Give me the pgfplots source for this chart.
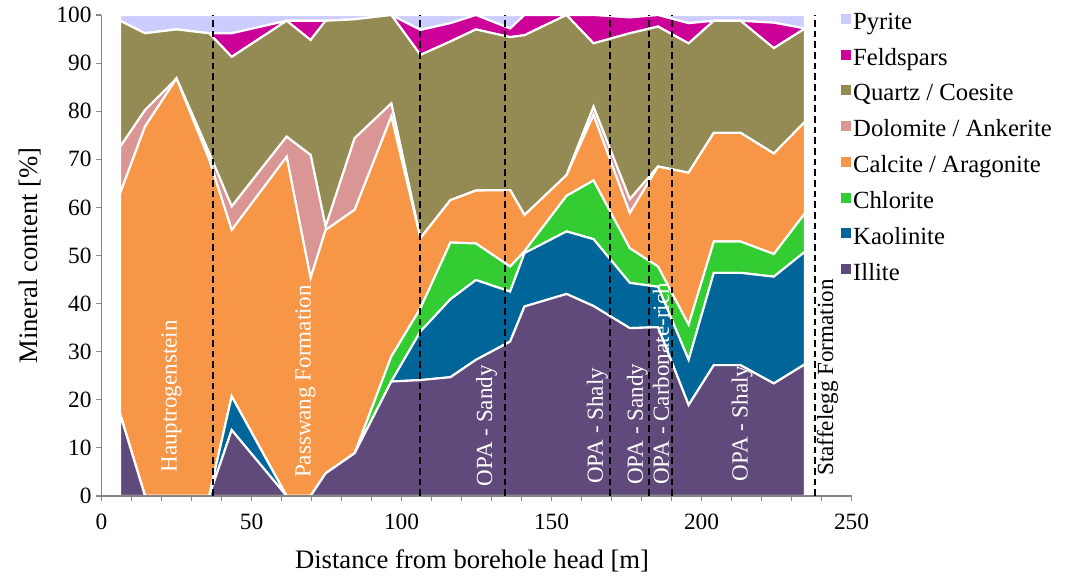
\documentclass[border=0pt]{standalone}
\usepackage{pgfplots}
\pgfplotsset{compat=1.18}
\usepackage{pgfplotstable}
\usepackage{fontspec}
\setmainfont{Liberation Serif}
\definecolor{cIll}{HTML}{604A7B}
\definecolor{cKao}{HTML}{006699}
\definecolor{cChl}{HTML}{33CC33}
\definecolor{cCal}{HTML}{F79646}
\definecolor{cDol}{HTML}{D99694}
\definecolor{cQtz}{HTML}{948A54}
\definecolor{cFel}{HTML}{CC0099}
\definecolor{cPyr}{HTML}{CCCCFF}
\definecolor{axgray}{HTML}{868686}

\pgfplotstableread{
x     I    K    C    Ca   D    Q    F   P
6.2   17.0 0    0    45.9 9.7  26.2 0   1.2
14.5  0    0    0    76.8 3.4  16.0 0   3.8
25.0  0    0    0    86.8 0    10.2 0   3.0
35.9  0    0    0    69.9 1.4  24.9 0   3.8
43.4  13.7 7.0  0    34.6 4.9  31.1 4.9 3.8
61.7  0    0    0    70.5 4.2  24.1 0   1.2
69.7  0    0    0    45.3 25.6 23.9 4.0 1.2
74.7  4.7  0    0    50.6 0.7  42.8 0   1.2
84.4  8.9  0    0    50.6 14.9 24.7 0   0.9
96.6  23.8 0    5.2  49.9 2.7  18.4 0   0
106.3 24.1 10.1 4.8  14.6 0    38.1 5.2 3.1
116.3 24.7 16.2 11.8 8.8  0    33.0 3.8 1.7
124.8 28.3 16.6 7.6  11.0 0    33.5 3.0 0
136.2 32.1 10.4 5.2  15.9 0    31.8 1.8 2.8
141.0 39.4 11.1 0.4  7.5  0    37.4 4.2 0
155.0 42.0 13.0 7.4  4.3  0    33.3 0   0
164.0 39.5 13.9 12.2 13.6 1.7  13.2 5.9 0
176.1 34.9 9.4  7.2  7.3  2.9  34.5 3.3 0.5
185.5 35.1 8.4  4.2  20.8 0    29.1 2.4 0
195.7 18.9 9.4  7.3  31.6 0    26.9 4.2 1.7
204.1 27.2 19.2 6.5  22.6 0    23.3 0   1.2
213.0 27.2 19.2 6.5  22.6 0    23.3 0   1.2
224.1 23.4 22.2 4.7  20.9 0    21.9 5.3 1.6
234.5 27.4 23.4 8.0  19.0 0    19.4 0   2.8
}\datatable

\begin{document}
\begin{tikzpicture}
\path[use as bounding box] (-76.125pt,-60pt) rectangle ++(799.5pt,432pt);
\begin{axis}[
  at={(0pt,0pt)}, anchor=south west,
  scale only axis, width=562.5pt, height=360.75pt,
  xmin=0, xmax=250, ymin=0, ymax=100,
  stack plots=y,
  axis on top,
  axis lines*=left,
  axis line style={draw=axgray, line width=0.8pt},
  every tick/.style={draw=axgray, line width=0.8pt},
  tick align=outside,
  major tick length=4pt, minor tick length=4pt,
  xtick={0,50,...,250}, minor xtick={10,20,...,240},
  ytick={0,10,...,100},
  /pgf/number format/assume math mode=true,
  tick label style={font=\fontsize{17.5pt}{20pt}\selectfont},
  xticklabel style={yshift=-6pt},
  xlabel={Distance from borehole head [m]},
  ylabel={Mineral content [\%]},
  label style={font=\fontsize{20pt}{24pt}\selectfont},
  xlabel style={at={(axis description cs:0.494,-0.134)}, anchor=center},
  ylabel style={at={(axis description cs:-0.095,0.5)}, anchor=center},
  legend style={at={(0.985,1.009)}, anchor=north west, draw=none, fill=none,
    inner sep=0pt, row sep=8.6pt, font=\fontsize{18.5pt}{22pt}\selectfont,
    cells={anchor=west}},
  reverse legend,
  legend image code/.code={\fill[#1,draw=none] (0pt,-1pt) rectangle (7.5pt,6.5pt);},
  every axis plot/.append style={draw=white, line width=1.6pt},
]
\addplot[fill=cIll] table[x=x,y=I] {\datatable} \closedcycle;
\addlegendentry{Illite}
\addplot[fill=cKao] table[x=x,y=K] {\datatable} \closedcycle;
\addlegendentry{Kaolinite}
\addplot[fill=cChl] table[x=x,y=C] {\datatable} \closedcycle;
\addlegendentry{Chlorite}
\addplot[fill=cCal] table[x=x,y=Ca] {\datatable} \closedcycle;
\addlegendentry{Calcite / Aragonite}
\addplot[fill=cDol] table[x=x,y=D] {\datatable} \closedcycle;
\addlegendentry{Dolomite / Ankerite}
\addplot[fill=cQtz] table[x=x,y=Q] {\datatable} \closedcycle;
\addlegendentry{Quartz / Coesite}
\addplot[fill=cFel] table[x=x,y=F] {\datatable} \closedcycle;
\addlegendentry{Feldspars}
\addplot[fill=cPyr] table[x=x,y=P] {\datatable} \closedcycle;
\addlegendentry{Pyrite}
\end{axis}
\begin{axis}[
  at={(0pt,0pt)}, anchor=south west,
  scale only axis, width=562.5pt, height=360.75pt,
  xmin=0, xmax=250, ymin=0, ymax=100,
  hide axis, clip=false,
]
\pgfplotsinvokeforeach{37.0,106.0,134.5,169.6,182.6,190.1,237.8}{
  \addplot[black, line width=1.5pt, dash pattern=on 5pt off 3pt] coordinates {(#1,0) (#1,100)};
}
\begin{scope}[every node/.style={rotate=90, anchor=west, inner sep=0pt, text=white, font=\fontsize{17.3pt}{20pt}\selectfont}]
\node at (axis cs:23.3,4.8) {Hauptrogenstein};
\node at (axis cs:68.0,3.7) {Passwang Formation};
\node at (axis cs:128.4,2.0) {OPA - Sandy};
\node at (axis cs:165.3,2.5) {OPA - Shaly};
\node at (axis cs:178.6,2.3) {OPA - Sandy};
\node at (axis cs:186.5,2.3) {OPA - Carbonate-rich};
\node at (axis cs:213.5,3.0) {OPA - Shaly};
\node[text=black] at (axis cs:242.0,4.2) {Staffelegg Formation};
\end{scope}
\end{axis}
\end{tikzpicture}
\end{document}
